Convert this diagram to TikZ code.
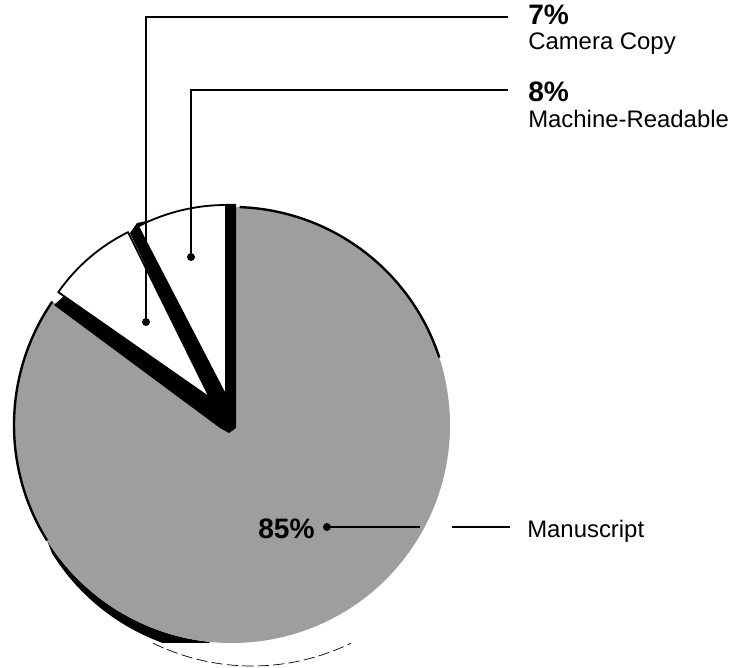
\documentclass[tikz,border=0pt]{standalone}
\usepackage{fontspec}
\setmainfont{Liberation Sans}
\colorlet{msgray}{black!38}

\begin{document}
\begin{tikzpicture}[x=0.025cm, y=0.025cm,
    rim/.style={line width=1.7pt},
    slice/.style={fill=white, draw=black, line width=1.3pt, line join=round},
    leader/.style={line width=1.1pt},
    dot/.style={circle, fill=black, inner sep=0pt, minimum size=0.2cm},
    pct/.style={anchor=base west, inner sep=0pt, font=\fontsize{20}{24}\selectfont\bfseries},
    lbl/.style={anchor=base west, inner sep=0pt, font=\fontsize{17}{20}\selectfont}]
    \useasboundingbox (0,0) rectangle (732,667);
    \coordinate (ctr) at (232,242);
    % Manuscript slice with its dark rim at the lower left
    \begin{scope}
        \clip (0,25) rectangle (732,667);
        \fill ([shift={(ctr)}]212:218) arc[start angle=212, end angle=264, radius=218]
            -- ([shift={(237,229)}]264:218) arc[start angle=264, end angle=212, radius=218] -- cycle;
    \end{scope}
    \fill[msgray] (ctr) -- ([shift={(ctr)}]145.5:218) arc[start angle=145.5, end angle=450, radius=218] -- cycle;
    \draw[rim] ([shift={(ctr)}]88:218) arc[start angle=88, end angle=18, radius=218];
    \draw[rim] ([shift={(ctr)}]145.5:218) arc[start angle=145.5, end angle=212, radius=218];
    \draw[line width=0.5pt, dash pattern=on 8pt off 3pt] ([shift={(252,227)}]244:226) arc[start angle=244, end angle=296, radius=226];
    % black sides of the pulled-out slices
    \fill (226,463) -- (236,463) -- (236,239) -- (229,234) -- (220,239) -- (54,362) -- (64,371)
        -- (208,271) -- (130,434) -- (137,444) -- cycle;
    \draw[slice] (210,269) -- ++(145.1:185) arc[start angle=145.1, end angle=116.3, radius=185] -- cycle;
    \draw[slice] (226,271) -- ++(90:191) arc[start angle=90, end angle=117.4, radius=191] -- cycle;
    % leaders and labels
    \node[dot] (camdot) at (146,345) {};
    \node[dot] (mrdot) at (191,410) {};
    \node[dot] (msdot) at (327,140) {};
    \coordinate (camend) at (508,650);
    \coordinate (mrend) at (508,577);
    \coordinate (msgap) at (420,140);
    \coordinate (msgap2) at (452,140);
    \coordinate (msend) at (510,140);
    \node[pct] (campct) at (528,642) {7\%};
    \node[lbl] (camlbl) at (528,617) {Camera Copy};
    \node[pct] (mrpct) at (528,565) {8\%};
    \node[lbl] (mrlbl) at (528,539) {Machine-Readable};
    \node[pct] (mspct) at (258,129) {85\%};
    \node[lbl] (mslbl) at (527,130) {Manuscript};
    \draw[leader] (camdot) |- (camend);
    \draw[leader] (mrdot) |- (mrend);
    \draw[leader] (msdot) -- (msgap);
    \draw[leader] (msgap2) -- (msend);
\end{tikzpicture}
\end{document}
